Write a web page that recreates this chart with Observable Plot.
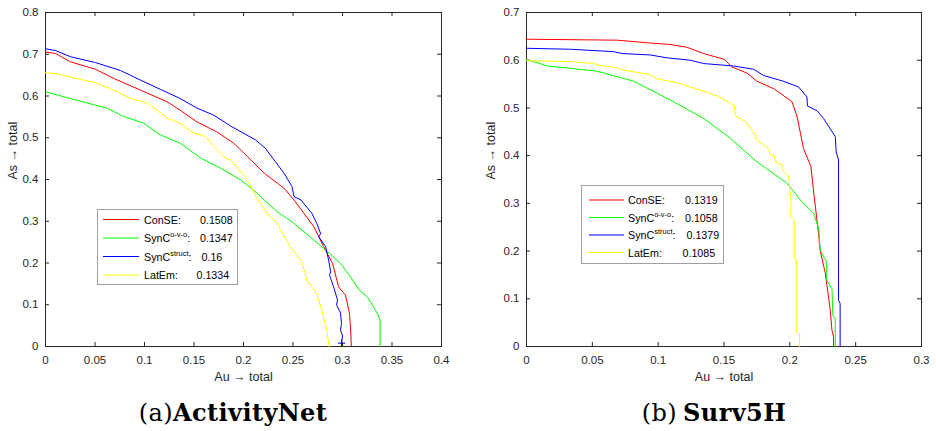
<!DOCTYPE html>
<html>
<head>
<meta charset="utf-8">
<script src="https://cdn.jsdelivr.net/npm/d3@7"></script>
<script src="https://cdn.jsdelivr.net/npm/@observablehq/plot@0.6"></script>
<style>
  html, body { margin: 0; padding: 0; background: #fff; }
  #wrap { position: relative; width: 936px; height: 431px; overflow: hidden; background: #fff; }
  .panel { position: absolute; top: 0; }
  .cap { position: absolute; top: 401px; width: 300px; text-align: center; font-family: "DejaVu Serif", serif; font-size: 24px; line-height: 24px; letter-spacing: 0.4px; color: #000; white-space: nowrap; }
</style>
</head>
<body>
<div id="wrap"></div>
<script>
// ---------- DATA ----------
const seriesNames = ["ConSE", "SynC", "SynC", "LatEm"];
const seriesSup = ["", "o-v-o", "struct", ""];
const seriesColors = ["#ff0000", "#00ff00", "#0000ff", "#ffff00"];

// (a) ActivityNet
const actXTicks = [0, 0.05, 0.1, 0.15, 0.2, 0.25, 0.3, 0.35, 0.4];
const actYTicks = [0, 0.1, 0.2, 0.3, 0.4, 0.5, 0.6, 0.7, 0.8];
const actScores = ["0.1508", "0.1347", "0.16", "0.1334"];

const actConSE_x = [0, 0.010, 0.025, 0.0505, 0.069, 0.096, 0.123, 0.136, 0.153, 0.173, 0.190, 0.204, 0.221, 0.241, 0.251, 0.271, 0.281, 0.290, 0.296, 0.303, 0.307, 0.308, 0.309];
const actConSE_y = [0.705, 0.702, 0.682, 0.664, 0.642, 0.614, 0.586, 0.566, 0.538, 0.514, 0.487, 0.455, 0.415, 0.379, 0.351, 0.287, 0.239, 0.199, 0.143, 0.123, 0.080, 0.047, 0];

const actOvo_x = [0, 0.008, 0.025, 0.0505, 0.062, 0.079, 0.099, 0.116, 0.136, 0.157, 0.177, 0.197, 0.210, 0.221, 0.234, 0.251, 0.271, 0.285, 0.298, 0.308, 0.317, 0.325, 0.335, 0.338, 0.338];
const actOvo_y = [0.610, 0.605, 0.594, 0.578, 0.571, 0.551, 0.535, 0.507, 0.487, 0.451, 0.427, 0.399, 0.375, 0.351, 0.323, 0.295, 0.255, 0.227, 0.199, 0.167, 0.135, 0.119, 0.080, 0.063, 0];

const actStruct_x = [0, 0.010, 0.0253, 0.0505, 0.0758, 0.096, 0.116, 0.136, 0.153, 0.170, 0.187, 0.212, 0.222, 0.241, 0.249, 0.251, 0.258, 0.269, 0.274, 0.278, 0.276, 0.283, 0.286, 0.288, 0.287, 0.291, 0.295, 0.294, 0.298, 0.299, 0.298, 0.300, 0.299];
const actStruct_y = [0.713, 0.709, 0.694, 0.680, 0.661, 0.638, 0.616, 0.594, 0.571, 0.554, 0.528, 0.495, 0.475, 0.415, 0.383, 0.359, 0.351, 0.319, 0.295, 0.270, 0.263, 0.239, 0.207, 0.180, 0.170, 0.143, 0.111, 0.100, 0.080, 0.055, 0.040, 0.025, 0.008];

const actLatEm_x = [0, 0.012, 0.025, 0.0505, 0.069, 0.086, 0.103, 0.123, 0.136, 0.150, 0.162, 0.167, 0.182, 0.187, 0.204, 0.214, 0.224, 0.234, 0.247, 0.259, 0.264, 0.274, 0.279, 0.284, 0.2865];
const actLatEm_y = [0.656, 0.653, 0.645, 0.632, 0.614, 0.594, 0.583, 0.547, 0.535, 0.511, 0.503, 0.487, 0.451, 0.447, 0.399, 0.353, 0.319, 0.295, 0.239, 0.203, 0.159, 0.127, 0.087, 0.040, 0];

// (b) Surv5H
const survXTicks = [0, 0.05, 0.1, 0.15, 0.2, 0.25, 0.3];
const survYTicks = [0, 0.1, 0.2, 0.3, 0.4, 0.5, 0.6, 0.7];
const survScores = ["0.1319", "0.1058", "0.1379", "0.1085"];

const survConSE_x = [0, 0.069, 0.094, 0.109, 0.122, 0.1345, 0.150, 0.156, 0.1675, 0.175, 0.188, 0.2016, 0.2054, 0.2104, 0.216, 0.2188, 0.2218, 0.223, 0.227, 0.2307, 0.232, 0.2332, 0.2332];
const survConSE_y = [0.644, 0.642, 0.636, 0.633, 0.627, 0.614, 0.602, 0.586, 0.573, 0.556, 0.540, 0.513, 0.483, 0.415, 0.377, 0.307, 0.237, 0.202, 0.153, 0.076, 0.034, 0.021, 0];

const survOvo_x = [0, 0.008, 0.0157, 0.0334, 0.0536, 0.0814, 0.109, 0.1345, 0.155, 0.175, 0.198, 0.208, 0.218, 0.222, 0.223, 0.228, 0.228, 0.232, 0.2327, 0.2345, 0.2345];
const survOvo_y = [0.601, 0.595, 0.588, 0.583, 0.577, 0.556, 0.517, 0.478, 0.436, 0.387, 0.342, 0.307, 0.279, 0.247, 0.202, 0.177, 0.139, 0.121, 0.065, 0.058, 0];

const survStruct_x = [0, 0.0334, 0.066, 0.0726, 0.094, 0.1067, 0.1244, 0.1345, 0.157, 0.1725, 0.180, 0.195, 0.2066, 0.213, 0.2134, 0.2206, 0.2256, 0.2345, 0.2352, 0.237, 0.237, 0.2382, 0.2382];
const survStruct_y = [0.625, 0.623, 0.618, 0.614, 0.611, 0.605, 0.600, 0.593, 0.588, 0.581, 0.568, 0.556, 0.544, 0.523, 0.504, 0.494, 0.478, 0.440, 0.408, 0.391, 0.097, 0.090, 0];

const survLatEm_x = [0, 0.0334, 0.051, 0.0574, 0.066, 0.0739, 0.094, 0.099, 0.114, 0.124, 0.138, 0.1447, 0.1523, 0.1578, 0.1588, 0.166, 0.174, 0.1745, 0.1839, 0.185, 0.188, 0.1897, 0.194, 0.195, 0.199, 0.1998, 0.2008, 0.2008, 0.2033, 0.2033, 0.2049, 0.2049, 0.2074, 0.2074];
const survLatEm_y = [0.599, 0.597, 0.593, 0.588, 0.586, 0.579, 0.570, 0.561, 0.553, 0.544, 0.532, 0.525, 0.514, 0.505, 0.483, 0.472, 0.444, 0.434, 0.415, 0.402, 0.400, 0.385, 0.381, 0.368, 0.357, 0.336, 0.307, 0.272, 0.266, 0.188, 0.181, 0.030, 0.027, 0];

// ---------- DRAW ----------
const H = 395, MT = 12, MB = 49;
const AX = "#262626";
const FONT = "'Liberation Sans', Arial, Helvetica, sans-serif";

function zip(xs, ys) { return xs.map((x, i) => ({x, y: ys[i]})); }

function panel(cfg) {
  const W = 468;
  const iw = W - cfg.ml - cfg.mr, ih = H - MT - MB;
  const series = cfg.series.map(([xs, ys]) => zip(xs, ys));
  const marks = [
    Plot.frame({stroke: AX, strokeWidth: 1}),
    Plot.tickX(cfg.xTicks, {x: d => d, insetTop: ih - 4, stroke: AX}),
    Plot.tickX(cfg.xTicks, {x: d => d, insetBottom: ih - 4, stroke: AX}),
    Plot.tickY(cfg.yTicks, {y: d => d, insetRight: iw - 4, stroke: AX}),
    Plot.tickY(cfg.yTicks, {y: d => d, insetLeft: iw - 4, stroke: AX}),
    Plot.axisX(cfg.xTicks, {tickSize: 0, tickPadding: 9, tickFormat: d => String(d), label: null}),
    Plot.axisY(cfg.yTicks, {tickSize: 0, tickPadding: 7, tickFormat: d => String(d), label: null}),
    Plot.text(["Au \u2192 total"], {text: d => d, frameAnchor: "bottom", dy: 34, fontSize: 12.5}),
    Plot.text(["As \u2192 total"], {text: d => d, frameAnchor: "left", rotate: -90, dx: cfg.ylabDx, fontSize: 12.5}),
    ...series.map((s, i) => Plot.line(s, {x: "x", y: "y", stroke: seriesColors[i], strokeWidth: 1})),
  ];
  if (cfg.endMark) {
    const s = series[2];
    marks.push(Plot.dot([s[s.length - 1]], {x: "x", y: "y", symbol: "plus", r: 2.5, stroke: seriesColors[2], strokeWidth: 1}));
  }
  const svg = Plot.plot({
    width: W, height: H,
    marginLeft: cfg.ml, marginRight: cfg.mr, marginTop: MT, marginBottom: MB,
    x: {domain: cfg.xDomain, axis: null},
    y: {domain: cfg.yDomain, axis: null},
    style: {fontFamily: FONT, fontSize: "11.5px", color: AX, background: "transparent", overflow: "visible"},
    marks
  });
  // legend box
  const L = cfg.legend;
  const g = d3.select(svg).append("g").attr("font-family", FONT).attr("font-size", "10.7px")
    .attr("fill", "#000").attr("text-anchor", "start");
  g.append("rect").attr("x", L.x0 + 0.5).attr("y", L.y0 + 0.5).attr("width", L.w).attr("height", L.h)
    .attr("fill", "#fff").attr("stroke", "#a0a0a0").attr("stroke-width", 1);
  seriesNames.forEach((name, i) => {
    const yy = L.rows[i];
    g.append("line").attr("x1", L.lx1).attr("x2", L.lx2).attr("y1", yy).attr("y2", yy)
      .attr("stroke", seriesColors[i]).attr("stroke-width", 1);
    const t = g.append("text").attr("x", L.tx).attr("y", yy + 4).attr("text-anchor", "start");
    t.append("tspan").text(name);
    if (seriesSup[i]) {
      t.append("tspan").attr("dy", -5).attr("font-size", "7.5px").text(seriesSup[i]);
      t.append("tspan").attr("dy", 5).text(":");
    } else {
      t.append("tspan").text(":");
    }
    g.append("text").attr("x", L.vx[i]).attr("y", yy + 4).attr("text-anchor", "start").text(cfg.scores[i]);
  });
  return svg;
}

const wrap = document.getElementById("wrap");

const p1 = panel({
  ml: 45, mr: 27, ylabDx: -33,
  xDomain: [0, 0.4], yDomain: [0, 0.8],
  xTicks: actXTicks, yTicks: actYTicks, scores: actScores, endMark: true,
  series: [[actConSE_x, actConSE_y], [actOvo_x, actOvo_y], [actStruct_x, actStruct_y], [actLatEm_x, actLatEm_y]],
  legend: {x0: 97, y0: 209, w: 140, h: 75, lx1: 103, lx2: 139, tx: 144, vx: [200, 200, 201.5, 196.5], rows: [219.5, 238, 256.5, 275]}
});
const d1 = document.createElement("div"); d1.className = "panel"; d1.style.left = "0px"; d1.appendChild(p1); wrap.appendChild(d1);

const p2 = panel({
  ml: 58, mr: 15, ylabDx: -36,
  xDomain: [0, 0.3], yDomain: [0, 0.7],
  xTicks: survXTicks, yTicks: survYTicks, scores: survScores, endMark: false,
  series: [[survConSE_x, survConSE_y], [survOvo_x, survOvo_y], [survStruct_x, survStruct_y], [survLatEm_x, survLatEm_y]],
  legend: {x0: 113, y0: 185, w: 142, h: 78, lx1: 121, lx2: 156, tx: 160, vx: [217, 217, 218.5, 214.5], rows: [200, 217.5, 235, 252.5]}
});
const d2 = document.createElement("div"); d2.className = "panel"; d2.style.left = "468px"; d2.appendChild(p2); wrap.appendChild(d2);

// captions
function caption(centerX, label, name, gap) {
  const c = document.createElement("div");
  c.className = "cap";
  c.style.left = (centerX - 150) + "px";
  const a = document.createElement("span"); a.textContent = label;
  const b = document.createElement("span"); b.textContent = name; b.style.fontWeight = "bold";
  if (gap) b.style.marginLeft = "6px";
  c.appendChild(a); c.appendChild(b);
  wrap.appendChild(c);
}
caption(233, "(a)", "ActivityNet", false);
caption(714, "(b)", "Surv5H", true);
</script>
</body>
</html>
